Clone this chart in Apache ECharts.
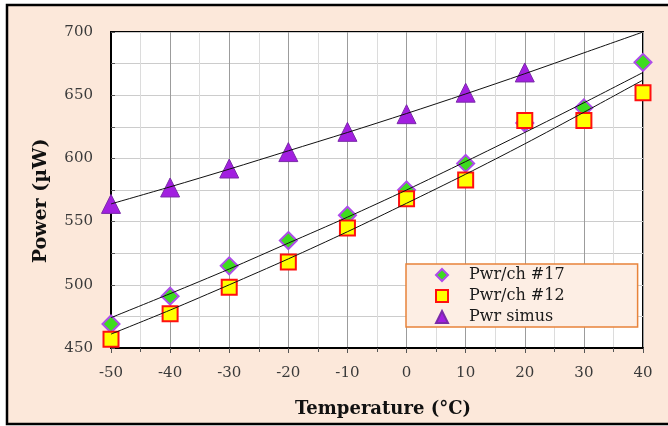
<!DOCTYPE html>
<html>
<head>
<meta charset="utf-8">
<script src="https://cdn.jsdelivr.net/npm/echarts@6/dist/echarts.min.js"></script>
<style>
  html, body { margin: 0; padding: 0; background: #fff; }
  #chart { width: 668px; height: 426px; }
</style>
</head>
<body>
<div id="chart"></div>
<script>
// temperatures (°C)
const temps = [-50, -40, -30, -20, -10, 0, 10, 20, 30, 40];

const ch17 = [469, 491, 515, 535, 555, 575, 596, 628, 640, 676];
const ch12 = [457, 477, 498, 518, 545, 568, 583, 630, 630, 652];
const simus = [564, 577, 592, 605, 621, 635, 652, 668]; // -50 .. 20 only

// trend curves at each temperature
const fit17 = [474, 493, 512.5, 533, 553.5, 575, 597.5, 620.5, 644, 668];
const fit12 = [461, 480, 500, 520.5, 542, 564.5, 587.5, 611.5, 636.5, 662];
const fitSimus = [564, 577.5, 591.5, 606, 620.5, 635.5, 651, 667, 683.5, 700];

const names = ["Pwr/ch #17", "Pwr/ch #12", "Pwr simus"];

function pairs(values) {
  return values.map((v, i) => [temps[i], v]);
}

function trend(values) {
  return {
    type: "line",
    data: pairs(values),
    smooth: 0.3,
    showSymbol: false,
    silent: true,
    lineStyle: { color: "#111", width: 1 },
    z: 5,
  };
}

const serif = "'DejaVu Serif', 'Liberation Serif', serif";

var myChart = echarts.init(document.getElementById("chart"), null, { renderer: "canvas" });
const option = {
  backgroundColor: "#fff",
  animation: false,
  graphic: [
    {
      type: "rect",
      z: -10,
      shape: { x: 7, y: 5, width: 670, height: 419 },
      style: { fill: "#FCE8DA", stroke: "#000", lineWidth: 2.5 },
    },
  ],
  grid: {
    left: 111,
    top: 32,
    right: 25,
    bottom: 78,
    show: true,
    backgroundColor: "#fff",
    borderColor: "#000",
    borderWidth: 2,
  },
  legend: {
    orient: "vertical",
    left: 406,
    top: 264,
    data: names,
    padding: [2, 73, 1, 29],
    itemWidth: 12,
    itemHeight: 12,
    itemGap: 3,
    backgroundColor: "#FDEEE4",
    borderColor: "#E8833A",
    borderWidth: 1.5,
    textStyle: { fontFamily: serif, fontSize: 16, color: "#1a1a1a", lineHeight: 18, padding: [0, 0, 0, 16] },
  },
  xAxis: {
    type: "value",
    min: -50,
    max: 40,
    interval: 10,
    name: "Temperature (°C)",
    nameLocation: "middle",
    nameGap: 52,
    nameTextStyle: { fontFamily: serif, fontSize: 18, fontWeight: "bold", color: "#111", padding: [0, 0, 0, 12] },
    axisLine: { onZero: false, lineStyle: { color: "#000", width: 2 } },
    axisTick: { length: 5, lineStyle: { color: "#555" } },
    minorTick: { show: true, splitNumber: 2, length: 4, lineStyle: { color: "#555" } },
    axisLabel: { fontFamily: serif, fontSize: 15, color: "#3a3a3a", margin: 18 },
    splitLine: { lineStyle: { color: "#9c9c9c", width: 1 } },
    minorSplitLine: { show: true, lineStyle: { color: "#dcdcdc", width: 1 } },
  },
  yAxis: {
    type: "value",
    min: 450,
    max: 700,
    interval: 50,
    name: "Power (µW)",
    nameLocation: "middle",
    nameRotate: 90,
    nameGap: 60,
    nameTextStyle: { fontFamily: serif, fontSize: 19, fontWeight: "bold", color: "#111", padding: [0, 22, 0, 0] },
    axisLine: { show: true, onZero: false, lineStyle: { color: "#000", width: 2 } },
    axisTick: { show: true, inside: true, length: 4, lineStyle: { color: "#555" } },
    minorTick: { show: true, splitNumber: 2, length: 4, lineStyle: { color: "#555" } },
    axisLabel: { fontFamily: serif, fontSize: 15, color: "#3a3a3a", margin: 18 },
    splitLine: { lineStyle: { color: "#cccccc", width: 1 } },
    minorSplitLine: { show: true, lineStyle: { color: "#cccccc", width: 1 } },
  },
  series: [
    {
      name: names[0],
      type: "scatter",
      data: pairs(ch17),
      symbol: "diamond",
      symbolSize: 17,
      itemStyle: { color: "#3DDC1E", borderColor: "#AE4BEA", borderWidth: 2, opacity: 1 },
      z: 2,
    },
    {
      name: names[1],
      type: "scatter",
      data: pairs(ch12),
      symbol: "rect",
      symbolSize: 15,
      itemStyle: { color: "#FFFF00", borderColor: "#FF1010", borderWidth: 2, opacity: 1 },
      z: 3,
    },
    {
      name: names[2],
      type: "scatter",
      data: pairs(simus),
      symbol: "triangle",
      symbolSize: 19,
      itemStyle: { color: "#A21FE0", borderColor: "#7A2BA8", borderWidth: 1, opacity: 1 },
      z: 4,
    },
    trend(fit17),
    trend(fit12),
    trend(fitSimus),
  ],
};
myChart.setOption(option);
</script>
</body>
</html>
